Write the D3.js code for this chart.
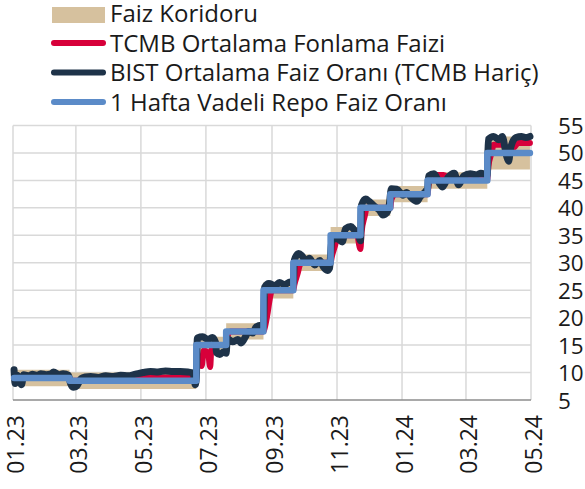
<html>
<head>
<meta charset="utf-8">
<script src="https://d3js.org/d3.v7.min.js"></script>
<style>
  body { margin: 0; background: white; }
  svg { display: block; }
  text { font-family: "Open Sans", sans-serif; fill: #1a1a1a; }
</style>
</head>
<body>
<svg width="585" height="489"></svg>
<script>
  var width = 585, height = 489;
  var plotLeft = 13, plotRight = 531, plotTop = 125.5, plotBottom = 400;

  // x axis ticks
  var tickDates = ["2023-01-01","2023-03-01","2023-05-01","2023-07-01","2023-09-01","2023-11-01","2024-01-01","2024-03-01","2024-05-01"];
  var tickLabels = ["01.23","03.23","05.23","07.23","09.23","11.23","01.24","03.24","05.24"];
  var yTicks = [5,10,15,20,25,30,35,40,45,50,55];

  // policy rate decisions (1 hafta repo) and corridor
  var stepDates = ["2023-01-02","2023-02-23","2023-06-22","2023-07-20","2023-08-24","2023-09-21","2023-10-26","2023-11-23","2023-12-21","2024-01-25","2024-03-21","2024-04-30"];
  var repoValues = [9, 8.5, 15, 17.5, 25, 30, 35, 40, 42.5, 45, 50, 50];
  var corridorLow = [7.5, 7, 13.5, 16, 23.5, 28.5, 33.5, 38.5, 41, 43.5, 47, 47];
  var corridorHigh = [10.5, 10, 16.5, 19, 26.5, 31.5, 36.5, 41.5, 44, 46.5, 53, 53];

  // TCMB ortalama fonlama faizi
  var tcmbDates = ["2023-01-02","2023-01-16","2023-02-01","2023-02-22","2023-02-24","2023-03-15","2023-04-03","2023-04-14","2023-04-20","2023-05-10","2023-06-01","2023-06-21",
    "2023-06-23","2023-06-26","2023-06-27","2023-06-29","2023-07-03","2023-07-05","2023-07-06","2023-07-10","2023-07-19","2023-07-21","2023-07-24","2023-08-24",
    "2023-08-25","2023-08-28","2023-08-30","2023-09-01","2023-09-21","2023-09-22","2023-09-25","2023-09-27","2023-09-29","2023-10-26","2023-10-27","2023-10-30",
    "2023-11-01","2023-11-03","2023-11-20","2023-11-22","2023-11-23","2023-11-24","2023-11-27","2023-11-29","2023-12-21","2023-12-22","2023-12-26","2024-01-25",
    "2024-01-26","2024-01-29","2024-02-09","2024-02-15","2024-03-21","2024-03-22","2024-03-25","2024-03-27","2024-04-05","2024-04-10","2024-04-15","2024-04-19","2024-04-30"];
  var tcmbValues = [9, 9, 9, 9, 8.5, 8.5, 8.5, 8.6, 9.1, 9.1, 9.1, 9.1,
    11, 13, 11.2, 14, 13.5, 11, 14, 15, 15, 16.5, 17.5, 17.5,
    18, 21, 23.5, 25, 25, 26, 28, 29.5, 30, 30, 31, 33,
    34.5, 35, 35, 33, 32.5, 35.5, 38.5, 40, 40, 41.5, 42.5, 42.5,
    44.5, 46, 46, 45.2, 45.2, 47.5, 50, 51.5, 51.5, 50.6, 51, 51.8, 51.8];

  // BIST ortalama faiz orani (TCMB haric)
  var bistDates = ["2023-01-02","2023-01-03","2023-01-05","2023-01-09","2023-01-11","2023-01-16","2023-01-19","2023-01-24","2023-01-27","2023-02-01","2023-02-06","2023-02-08",
    "2023-02-13","2023-02-17","2023-02-22","2023-02-24","2023-02-27","2023-03-02","2023-03-06","2023-03-10","2023-03-15","2023-03-22","2023-03-29","2023-04-05",
    "2023-04-12","2023-04-19","2023-04-26","2023-05-03","2023-05-10","2023-05-17","2023-05-24","2023-05-31","2023-06-07","2023-06-14","2023-06-19","2023-06-21",
    "2023-06-22","2023-06-23","2023-06-28","2023-07-03","2023-07-07","2023-07-10","2023-07-11","2023-07-14","2023-07-18","2023-07-20","2023-07-21","2023-07-26",
    "2023-07-31","2023-08-03","2023-08-07","2023-08-10","2023-08-14","2023-08-17","2023-08-22","2023-08-24","2023-08-25","2023-08-29","2023-09-04","2023-09-08",
    "2023-09-13","2023-09-18","2023-09-21","2023-09-22","2023-09-26","2023-09-29","2023-10-03","2023-10-06","2023-10-11","2023-10-16","2023-10-19","2023-10-23",
    "2023-10-25","2023-10-27","2023-11-01","2023-11-06","2023-11-09","2023-11-14","2023-11-17","2023-11-21","2023-11-23","2023-11-24","2023-11-28","2023-12-01",
    "2023-12-06","2023-12-11","2023-12-14","2023-12-18","2023-12-20","2023-12-22","2023-12-27","2024-01-02","2024-01-05","2024-01-10","2024-01-15","2024-01-18",
    "2024-01-23","2024-01-25","2024-01-26","2024-01-31","2024-02-05","2024-02-08","2024-02-13","2024-02-19","2024-02-23","2024-02-28","2024-03-05","2024-03-11",
    "2024-03-15","2024-03-21","2024-03-22","2024-03-27","2024-04-01","2024-04-04","2024-04-08","2024-04-10","2024-04-12","2024-04-17","2024-04-22","2024-04-26","2024-04-30"];
  var bistValues = [10.5, 8, 9.5, 7.8, 9.6, 9.4, 9.7, 9.5, 9.8, 9.6, 9.8, 10.1,
    9.6, 9.8, 9.5, 8, 7.3, 7.6, 8.9, 9.2, 9.3, 9.1, 9.4, 9.3,
    9.5, 9.4, 9.7, 10, 10.2, 10.1, 10.3, 10.2, 10.2, 10.1, 9.9, 7.8,
    9, 16.3, 16.5, 16, 16.4, 15.5, 13.6, 13.3, 13.8, 13.5, 16.2, 15.6,
    16, 15.4, 16.5, 17.5, 17.2, 18.3, 18.6, 18.2, 25.5, 26.2, 25.8, 26.4,
    26, 26.5, 26.2, 30.5, 31.7, 31.3, 30.2, 30.8, 29.6, 30.4, 29.3, 28.6,
    29, 34, 34.4, 33.8, 36.2, 36.6, 36, 35.3, 34, 40.5, 41.6, 41.2,
    40.3, 39.5, 38.7, 39.2, 40.5, 43.5, 43.4, 42.3, 42.8, 41.8, 41.2, 42,
    43, 43.5, 45.8, 46.2, 44.5, 43.8, 45.5, 46.3, 44.2, 45.8, 46.2, 46,
    46.3, 46, 52.5, 53, 52.4, 53, 49.5, 48.5, 51, 52.8, 53, 52.8, 53];

  var colors = {corridor: "#d6c19e", tcmb: "#d7003a", bist: "#1e3349", repo: "#5b8bc8"};
  var parse = d3.timeParse("%Y-%m-%d");

  var steps = stepDates.map((d, i) => ({date: parse(d), repo: repoValues[i], low: corridorLow[i], high: corridorHigh[i]}));
  var tcmb = tcmbDates.map((d, i) => ({date: parse(d), v: tcmbValues[i]}));
  var bist = bistDates.map((d, i) => ({date: parse(d), v: bistValues[i]}));

  var xs = d3.scaleTime().domain([parse("2023-01-01"), parse("2024-05-01")]).range([plotLeft, plotRight]);
  var ys = d3.scaleLinear().domain([5, 55]).range([plotBottom, plotTop]);

  var svg = d3.select("svg");

  // grid
  svg.append("g").selectAll("line").data(yTicks.filter(t => t > 5)).enter()
    .append("line")
    .attr("x1", plotLeft).attr("x2", plotRight)
    .attr("y1", d => ys(d)).attr("y2", d => ys(d))
    .attr("stroke", "#d9d9d9").attr("stroke-width", 1.5);

  svg.append("g").selectAll("line").data(tickDates).enter()
    .append("line")
    .attr("x1", d => xs(parse(d))).attr("x2", d => xs(parse(d)))
    .attr("y1", plotTop).attr("y2", plotBottom)
    .attr("stroke", "#d9d9d9").attr("stroke-width", 1.5);

  svg.append("line")
    .attr("x1", plotLeft).attr("x2", plotRight)
    .attr("y1", plotBottom).attr("y2", plotBottom)
    .attr("stroke", "#8c8c8c").attr("stroke-width", 1.5);

  // corridor
  svg.append("path").datum(steps)
    .attr("d", d3.area().curve(d3.curveStepAfter).x(d => xs(d.date)).y0(d => ys(d.low)).y1(d => ys(d.high)))
    .attr("fill", colors.corridor);

  svg.append("path").datum(tcmb)
    .attr("d", d3.line().curve(d3.curveMonotoneX).x(d => xs(d.date)).y(d => ys(d.v)))
    .attr("fill", "none").attr("stroke", colors.tcmb).attr("stroke-width", 6)
    .attr("stroke-linejoin", "round").attr("stroke-linecap", "round");

  svg.append("path").datum(bist)
    .attr("d", d3.line().curve(d3.curveMonotoneX).x(d => xs(d.date)).y(d => ys(d.v)))
    .attr("fill", "none").attr("stroke", colors.bist).attr("stroke-width", 7)
    .attr("stroke-linejoin", "round").attr("stroke-linecap", "round");

  svg.append("path").datum(steps)
    .attr("d", d3.line().curve(d3.curveStepAfter).x(d => xs(d.date)).y(d => ys(d.repo)))
    .attr("fill", "none").attr("stroke", colors.repo).attr("stroke-width", 6.5)
    .attr("stroke-linejoin", "round").attr("stroke-linecap", "round");

  // y labels on the right
  svg.append("g").selectAll("text").data(yTicks).enter()
    .append("text")
    .attr("x", 558).attr("y", d => ys(d))
    .attr("dominant-baseline", "central")
    .style("font-size", "22.5px")
    .text(d => d);

  // x labels rotated
  svg.append("g").selectAll("text").data(tickDates).enter()
    .append("text")
    .attr("transform", (d, i) => "translate(" + (xs(parse(d)) + 2) + ",415) rotate(-90)")
    .attr("text-anchor", "end")
    .attr("dominant-baseline", "central")
    .style("font-size", "23px")
    .text((d, i) => tickLabels[i]);

  // legend
  var legendNames = ["Faiz Koridoru", "TCMB Ortalama Fonlama Faizi", "BIST Ortalama Faiz Oranı (TCMB Hariç)", "1 Hafta Vadeli Repo Faiz Oranı"];
  var legendKeys = ["corridor", "tcmb", "bist", "repo"];
  var lg = svg.append("g");
  legendNames.forEach(function(name, i) {
    var base = 22 + i * 29.5;
    var cy = base - 8.5;
    if (i == 0) {
      lg.append("rect").attr("x", 52).attr("y", 7).attr("width", 53).attr("height", 16).attr("fill", colors.corridor);
    } else {
      lg.append("line").attr("x1", 54).attr("x2", 103).attr("y1", cy).attr("y2", cy)
        .attr("stroke", colors[legendKeys[i]]).attr("stroke-width", 6).attr("stroke-linecap", "round");
    }
    lg.append("text").attr("x", 110).attr("y", base).style("font-size", "24px").text(name);
  });
</script>
</body>
</html>
